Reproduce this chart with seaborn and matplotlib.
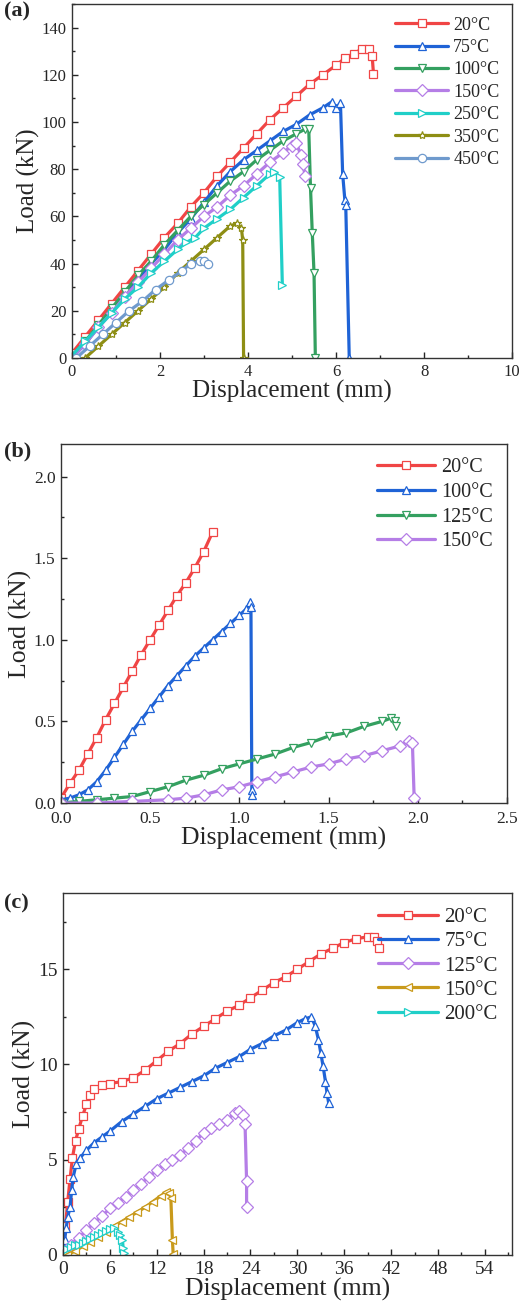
import matplotlib
matplotlib.use("Agg")
import matplotlib.pyplot as plt
import seaborn as sns
from matplotlib.ticker import MultipleLocator

# ---------------- panel (a) data: load (kN) vs displacement (mm) ----------------
a_labels = ["20°C", "75°C", "100°C", "150°C", "250°C", "350°C", "450°C"]

a_20_x = [0, 0.3, 0.6, 0.9, 1.2, 1.5, 1.8, 2.1, 2.4, 2.7, 3.0, 3.3, 3.6, 3.9, 4.2, 4.5,
          4.8, 5.1, 5.4, 5.7, 6.0, 6.2, 6.4, 6.6, 6.75, 6.82, 6.85]
a_20_y = [2, 9, 16, 23, 30, 37, 44, 51, 57, 64, 70, 77, 83, 89, 95, 101,
          106, 111, 116, 120, 124, 127, 129, 131, 131, 128, 120.5]

a_75_x = [0, 0.3, 0.6, 0.9, 1.2, 1.5, 1.8, 2.1, 2.4, 2.7, 3.0, 3.3, 3.6, 3.9, 4.2, 4.5,
          4.8, 5.1, 5.4, 5.7, 5.9, 6.0, 6.1, 6.15, 6.2, 6.22, 6.3]
a_75_y = [0, 6, 13, 20, 27, 33, 40, 46, 53, 59, 66, 73, 79, 84, 88, 92,
          96, 99, 103, 106, 108.5, 106, 108, 78, 67, 65, 0]

a_100_x = [0, 0.3, 0.6, 0.9, 1.2, 1.5, 1.8, 2.1, 2.4, 2.7, 3.0, 3.3, 3.6, 3.9, 4.2, 4.5,
           4.8, 5.1, 5.3, 5.38, 5.42, 5.46, 5.5, 5.53]
a_100_y = [1, 7, 14, 21, 28, 35, 41, 48, 54, 60, 65, 70, 75, 79, 84, 88,
           92, 95, 97, 97, 72, 53, 36, 0]

a_150_x = [0, 0.3, 0.6, 0.9, 1.2, 1.5, 1.8, 2.1, 2.4, 2.7, 3.0, 3.3, 3.6, 3.9, 4.2, 4.5,
           4.8, 5.0, 5.1, 5.2, 5.25, 5.3]
a_150_y = [0, 6, 13, 19, 26, 32, 38, 44, 50, 55, 60, 64, 69, 73, 78, 83,
           87, 90, 91, 86, 82, 77]

a_250_x = [0, 0.3, 0.6, 0.9, 1.2, 1.5, 1.8, 2.1, 2.4, 2.6, 2.8, 3.0, 3.3, 3.6, 3.9, 4.2,
           4.5, 4.6, 4.72, 4.78]
a_250_y = [1, 7, 13, 19, 25, 30, 36, 41, 46, 49, 51, 55, 59, 63, 68, 73,
           78, 79, 76.5, 31]

a_350_x = [0.3, 0.6, 0.9, 1.2, 1.5, 1.8, 2.1, 2.4, 2.7, 3.0, 3.3, 3.6, 3.75, 3.85, 3.88, 3.9]
a_350_y = [0, 5, 10, 15, 20, 25, 30, 36, 41, 46, 51, 56, 57, 55, 50, 0]

a_450_x = [0.1, 0.4, 0.7, 1.0, 1.3, 1.6, 1.9, 2.2, 2.5, 2.7, 2.9, 3.0, 3.1]
a_450_y = [0, 5, 10, 15, 20, 24, 29, 33, 37, 40, 41, 41, 40]

# ---------------- panel (b) data ----------------
b_labels = ["20°C", "100°C", "125°C", "150°C"]

b_20_x = [0, 0.05, 0.1, 0.15, 0.2, 0.25, 0.3, 0.35, 0.4, 0.45, 0.5, 0.55, 0.6, 0.65,
          0.7, 0.75, 0.8, 0.85]
b_20_y = [0.03, 0.12, 0.2, 0.3, 0.4, 0.51, 0.61, 0.71, 0.81, 0.91, 1.0, 1.09, 1.18, 1.27,
          1.35, 1.44, 1.54, 1.66]

b_100_x = [0, 0.05, 0.1, 0.15, 0.2, 0.25, 0.3, 0.35, 0.4, 0.45, 0.5, 0.55, 0.6, 0.65,
           0.7, 0.75, 0.8, 0.85, 0.9, 0.95, 1.0, 1.04, 1.06, 1.065, 1.07, 1.07]
b_100_y = [0.02, 0.03, 0.05, 0.08, 0.13, 0.2, 0.28, 0.36, 0.44, 0.51, 0.58, 0.65, 0.72, 0.78,
           0.84, 0.9, 0.95, 1.0, 1.05, 1.1, 1.15, 1.19, 1.23, 1.2, 0.08, 0.05]

b_125_x = [0, 0.1, 0.2, 0.3, 0.4, 0.5, 0.6, 0.7, 0.8, 0.9, 1.0, 1.1, 1.2, 1.3, 1.4, 1.5,
           1.6, 1.7, 1.8, 1.85, 1.87, 1.88]
b_125_y = [0, 0.01, 0.02, 0.03, 0.04, 0.07, 0.1, 0.14, 0.17, 0.21, 0.24, 0.27, 0.3, 0.34,
           0.37, 0.41, 0.43, 0.47, 0.5, 0.52, 0.5, 0.47]

b_150_x = [0, 0.2, 0.4, 0.6, 0.7, 0.8, 0.9, 1.0, 1.1, 1.2, 1.3, 1.4, 1.5, 1.6, 1.7, 1.8,
           1.9, 1.95, 1.97, 1.98]
b_150_y = [0, 0, 0.01, 0.02, 0.03, 0.05, 0.08, 0.1, 0.13, 0.16, 0.19, 0.22, 0.24, 0.27,
           0.29, 0.32, 0.35, 0.38, 0.37, 0.03]

# ---------------- panel (c) data ----------------
c_labels = ["20°C", "75°C", "125°C", "150°C", "200°C"]

c_20_x = [0, 0.3, 0.6, 0.9, 1.2, 1.6, 2.0, 2.5, 3.0, 3.5, 4.0, 5.0, 6.0, 7.5, 9.0, 10.5,
          12.0, 13.5, 15.0, 16.5, 18.0, 19.5, 21.0, 22.5, 24.0, 25.5, 27.0, 28.5, 30.0,
          31.5, 33.0, 34.5, 36.0, 37.5, 39.0, 39.8, 40.2, 40.4]
c_20_y = [0, 1.5, 2.8, 4.0, 5.1, 6.0, 6.6, 7.3, 7.9, 8.4, 8.7, 8.9, 9.0, 9.1, 9.3, 9.7,
          10.2, 10.7, 11.1, 11.6, 12.0, 12.4, 12.8, 13.1, 13.5, 13.9, 14.3, 14.6, 15.0,
          15.4, 15.8, 16.1, 16.4, 16.6, 16.7, 16.7, 16.5, 16.1]

c_75_x = [0, 0.2, 0.4, 0.6, 0.9, 1.1, 1.3, 1.7, 2.2, 3.0, 4.0, 5.0, 6.0, 7.5, 9.0, 10.5,
          12.0, 13.5, 15.0, 16.5, 18.0, 19.5, 21.0, 22.5, 24.0, 25.5, 27.0, 28.5, 30.0,
          31.0, 31.8, 32.3, 32.7, 33.0, 33.3, 33.6, 33.8, 34.0]
c_75_y = [0, 0.8, 1.4, 2.0, 2.5, 3.4, 4.1, 4.8, 5.1, 5.5, 5.9, 6.2, 6.5, 7.0, 7.4, 7.8,
          8.2, 8.5, 8.8, 9.1, 9.4, 9.8, 10.1, 10.4, 10.8, 11.1, 11.5, 11.8, 12.2,
          12.4, 12.5, 12.0, 11.3, 10.6, 9.9, 9.1, 8.5, 8.0]

c_125_x = [0, 1, 2, 3, 4, 5, 6, 7, 8, 9, 10, 11, 12, 13, 14, 15, 16, 17, 18, 19, 20, 21,
           22, 22.5, 23.0, 23.3, 23.5, 23.5]
c_125_y = [0.2, 0.55, 0.9, 1.3, 1.7, 2.05, 2.45, 2.75, 3.05, 3.4, 3.75, 4.1, 4.45, 4.75,
           5.0, 5.25, 5.6, 6.0, 6.4, 6.65, 6.9, 7.1, 7.45, 7.55, 7.35, 6.9, 3.9, 2.5]

c_150_x = [0.5, 1.5, 2.5, 3.5, 4.5, 5.5, 6.5, 7.5, 8.5, 9.5, 10.5, 11.5, 12.5, 13.2,
           13.6, 13.8, 14.0, 14.1]
c_150_y = [0, 0.2, 0.45, 0.7, 0.95, 1.2, 1.5, 1.75, 2.0, 2.25, 2.5, 2.8, 3.1, 3.3,
           3.25, 3.0, 0.8, 0.05]

c_200_x = [0, 0.5, 1, 1.5, 2, 2.5, 3, 3.5, 4, 4.5, 5, 5.5, 6.0, 6.5, 7.0, 7.3, 7.6, 7.7, 7.8]
c_200_y = [0.2, 0.3, 0.4, 0.5, 0.55, 0.65, 0.75, 0.85, 0.95, 1.05, 1.15, 1.25, 1.35, 1.4,
           1.2, 1.05, 0.8, 0.35, 0.1]

RED = "#f04545"
BLUE = "#1f63d6"
GREEN = "#34a060"
PURPLE = "#b57ee6"
CYAN = "#20cfc8"
OLIVE = "#8e8e14"
STEEL = "#6f9acd"
GOLD = "#c99a1b"


def draw_panel(ax, series, fs_tick, fs_label, fs_leg, leg_space):
    for name, xs, ys, color, marker in series:
        sns.lineplot(x=xs, y=ys, ax=ax, sort=False, estimator=None, color=color,
                     linewidth=2.3, marker=marker, markersize=6,
                     markerfacecolor="white", markeredgecolor=color,
                     markeredgewidth=0.9, label=name)
    ax.set_xlabel("Displacement (mm)", fontsize=fs_label, labelpad=0)
    ax.set_ylabel("Load (kN)", fontsize=fs_label, labelpad=1)
    ax.tick_params(which="both", direction="in", top=False, right=False,
                   labelsize=fs_tick, width=1)
    ax.tick_params(which="major", length=4, pad=4)
    ax.tick_params(which="minor", length=2.5)
    for s in ax.spines.values():
        s.set_linewidth(1)
        s.set_color("#333333")
    ax.legend(loc="upper right", frameon=False, fontsize=fs_leg, handlelength=2.9,
              handletextpad=0.3, labelspacing=leg_space, borderaxespad=0.3)


sns.set_style("ticks")
plt.rcParams["font.family"] = ["Liberation Serif", "DejaVu Serif"]

fig = plt.figure(figsize=(5.21, 13.10), dpi=100)

# (a)
ax_a = fig.add_axes([0.138, 0.7267, 0.845, 0.2703])
draw_panel(ax_a, [
    (a_labels[0], a_20_x, a_20_y, RED, "s"),
    (a_labels[1], a_75_x, a_75_y, BLUE, "^"),
    (a_labels[2], a_100_x, a_100_y, GREEN, "v"),
    (a_labels[3], a_150_x, a_150_y, PURPLE, "D"),
    (a_labels[4], a_250_x, a_250_y, CYAN, ">"),
    (a_labels[5], a_350_x, a_350_y, OLIVE, "*"),
    (a_labels[6], a_450_x, a_450_y, STEEL, "o"),
], 12, 18, 13, 0.3)
ax_a.set_xlim(0, 10)
ax_a.set_ylim(0, 150)
ax_a.xaxis.set_major_locator(MultipleLocator(2))
ax_a.xaxis.set_minor_locator(MultipleLocator(1))
ax_a.yaxis.set_major_locator(MultipleLocator(20))
ax_a.yaxis.set_minor_locator(MultipleLocator(10))

# (b)
ax_b = fig.add_axes([0.117, 0.3870, 0.856, 0.2741])
draw_panel(ax_b, [
    (b_labels[0], b_20_x, b_20_y, RED, "s"),
    (b_labels[1], b_100_x, b_100_y, BLUE, "^"),
    (b_labels[2], b_125_x, b_125_y, GREEN, "v"),
    (b_labels[3], b_150_x, b_150_y, PURPLE, "D"),
], 12.5, 18.5, 14.5, 0.28)
ax_b.set_xlim(0, 2.5)
ax_b.set_ylim(0, 2.2)
ax_b.xaxis.set_major_locator(MultipleLocator(0.5))
ax_b.xaxis.set_minor_locator(MultipleLocator(0.25))
ax_b.yaxis.set_major_locator(MultipleLocator(0.5))
ax_b.yaxis.set_minor_locator(MultipleLocator(0.25))
ax_b.xaxis.set_major_formatter(lambda v, p: f"{v:.1f}")
ax_b.yaxis.set_major_formatter(lambda v, p: f"{v:.1f}")
ax_b.tick_params(axis="x", which="major", pad=6)

# (c)
ax_c = fig.add_axes([0.121, 0.0420, 0.862, 0.2763])
draw_panel(ax_c, [
    (c_labels[0], c_20_x, c_20_y, RED, "s"),
    (c_labels[1], c_75_x, c_75_y, BLUE, "^"),
    (c_labels[2], c_125_x, c_125_y, PURPLE, "D"),
    (c_labels[3], c_150_x, c_150_y, GOLD, "<"),
    (c_labels[4], c_200_x, c_200_y, CYAN, ">"),
], 14, 18.5, 15, 0.22)
ax_c.set_xlim(0, 57.5)
ax_c.set_ylim(0, 19)
ax_c.xaxis.set_major_locator(MultipleLocator(6))
ax_c.xaxis.set_minor_locator(MultipleLocator(3))
ax_c.yaxis.set_major_locator(MultipleLocator(5))
ax_c.yaxis.set_minor_locator(MultipleLocator(2.5))

for txt, ypos in [("(a)", 0.991), ("(b)", 0.655), ("(c)", 0.310)]:
    fig.text(0.008, ypos, txt, fontsize=16, fontweight="bold", va="center", ha="left")

fig.savefig("out.png", dpi=100)
